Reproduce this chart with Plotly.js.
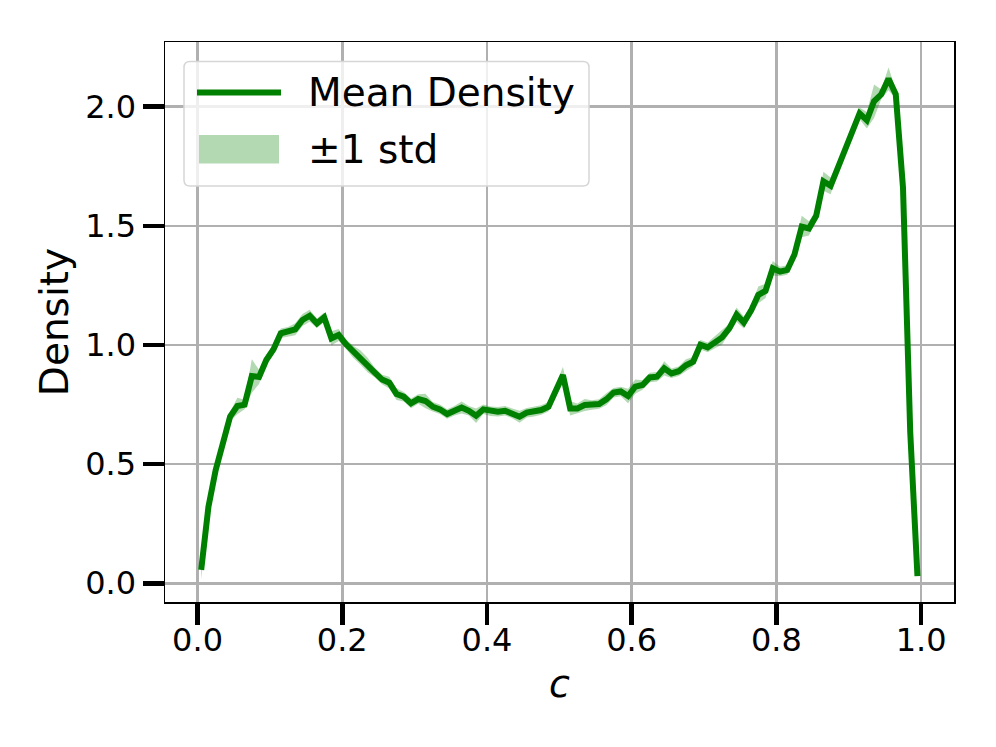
<!DOCTYPE html>
<html>
<head>
<meta charset="utf-8">
<script src="https://cdn.plot.ly/plotly-3.0.1.min.js"></script>
<style>
  html, body { margin: 0; padding: 0; background: #fff; }
  #chart { width: 996px; height: 747px; }
</style>
</head>
<body>
<div id="chart"></div>
<script>
// --- Data (bin centres of c, mean density and its std) ---
const binCentres = Array.from({ length: 100 }, (_, i) => +(0.005 + 0.01 * i).toFixed(3));

const meanDensity = [
  0.056, 0.320, 0.475, 0.587, 0.700, 0.744, 0.750, 0.870, 0.866, 0.937,
  0.982, 1.049, 1.056, 1.066, 1.105, 1.123, 1.091, 1.116, 1.028, 1.042,
  1.004, 0.972, 0.948, 0.916, 0.884, 0.855, 0.842, 0.794, 0.783, 0.755,
  0.773, 0.765, 0.741, 0.730, 0.710, 0.724, 0.738, 0.724, 0.703, 0.730,
  0.722, 0.720, 0.724, 0.713, 0.699, 0.716, 0.720, 0.727, 0.741, 0.804,
  0.874, 0.734, 0.734, 0.748, 0.748, 0.752, 0.772, 0.800, 0.805, 0.786,
  0.825, 0.832, 0.864, 0.867, 0.902, 0.881, 0.890, 0.915, 0.930, 1.001,
  0.990, 1.011, 1.032, 1.070, 1.127, 1.094, 1.144, 1.210, 1.227, 1.322,
  1.308, 1.315, 1.380, 1.497, 1.489, 1.542, 1.687, 1.668, 1.748, 1.823,
  1.895, 1.972, 1.943, 2.023, 2.052, 2.117, 2.052, 1.661, 0.635, 0.030
];

const stdDensity = [
  0.040, 0.025, 0.020, 0.020, 0.020, 0.035, 0.020, 0.070, 0.030, 0.020,
  0.020, 0.020, 0.020, 0.025, 0.025, 0.025, 0.020, 0.020, 0.030, 0.025,
  0.020, 0.025, 0.030, 0.030, 0.020, 0.020, 0.025, 0.025, 0.020, 0.020,
  0.020, 0.030, 0.020, 0.020, 0.020, 0.020, 0.025, 0.020, 0.030, 0.020,
  0.020, 0.020, 0.020, 0.020, 0.025, 0.020, 0.020, 0.020, 0.020, 0.025,
  0.035, 0.030, 0.020, 0.025, 0.020, 0.020, 0.025, 0.020, 0.020, 0.030,
  0.030, 0.020, 0.020, 0.020, 0.030, 0.020, 0.020, 0.025, 0.020, 0.020,
  0.020, 0.025, 0.030, 0.020, 0.030, 0.025, 0.020, 0.035, 0.030, 0.030,
  0.020, 0.020, 0.025, 0.045, 0.030, 0.020, 0.040, 0.035, 0.020, 0.020,
  0.020, 0.025, 0.035, 0.070, 0.020, 0.048, 0.020, 0.010, 0.010, 0.003
];

const xTicks = [0, 0.2, 0.4, 0.6, 0.8, 1.0];
const xTickLabels = ['0.0', '0.2', '0.4', '0.6', '0.8', '1.0'];
const yTicks = [0, 0.5, 1.0, 1.5, 2.0];
const yTickLabels = ['0.0', '0.5', '1.0', '1.5', '2.0'];

const legendLabels = ['Mean Density', '\u00b11 std'];

// --- Style ---
const lineColor = '#008000';
const bandColor = 'rgba(0,128,0,0.3)';
const fontFamily = 'DejaVu Sans, sans-serif';

// plot area in pixels (for the hand-made legend)
const W = 996, H = 747;
const plotL = 165, plotR = 954, plotT = 42, plotB = 602;
const px2x = px => (px - plotL) / (plotR - plotL);
const py2y = py => (plotB - py) / (plotB - plotT);

function roundRectPath(x0, y0, x1, y1, r) {
  const X = px2x, Y = py2y;
  return 'M' + X(x0 + r) + ',' + Y(y0) +
    ' L' + X(x1 - r) + ',' + Y(y0) +
    ' Q' + X(x1) + ',' + Y(y0) + ' ' + X(x1) + ',' + Y(y0 + r) +
    ' L' + X(x1) + ',' + Y(y1 - r) +
    ' Q' + X(x1) + ',' + Y(y1) + ' ' + X(x1 - r) + ',' + Y(y1) +
    ' L' + X(x0 + r) + ',' + Y(y1) +
    ' Q' + X(x0) + ',' + Y(y1) + ' ' + X(x0) + ',' + Y(y1 - r) +
    ' L' + X(x0) + ',' + Y(y0 + r) +
    ' Q' + X(x0) + ',' + Y(y0) + ' ' + X(x0 + r) + ',' + Y(y0) + ' Z';
}

// --- Traces ---
const upper = meanDensity.map((m, i) => m + stdDensity[i]);
const lower = meanDensity.map((m, i) => m - stdDensity[i]);

const traces = [
  {
    x: binCentres, y: upper,
    type: 'scatter', mode: 'lines',
    line: { width: 0, color: bandColor },
    showlegend: false, hoverinfo: 'skip'
  },
  {
    x: binCentres, y: lower,
    type: 'scatter', mode: 'lines',
    fill: 'tonexty', fillcolor: bandColor,
    line: { width: 0, color: bandColor },
    name: legendLabels[1], showlegend: false
  },
  {
    x: binCentres, y: meanDensity,
    type: 'scatter', mode: 'lines',
    line: { color: lineColor, width: 6 },
    name: legendLabels[0], showlegend: false
  }
];

// --- Legend drawn by hand (matplotlib style) ---
const shapes = [
  {
    type: 'path', xref: 'paper', yref: 'paper', layer: 'above',
    path: roundRectPath(184, 61.5, 589, 186, 6),
    fillcolor: 'rgba(255,255,255,0.8)',
    line: { color: '#d6d6d6', width: 1.5 }
  },
  {
    type: 'line', xref: 'paper', yref: 'paper', layer: 'above',
    x0: px2x(197), x1: px2x(281), y0: py2y(92.5), y1: py2y(92.5),
    line: { color: lineColor, width: 6 }
  },
  {
    type: 'rect', xref: 'paper', yref: 'paper', layer: 'above',
    x0: px2x(199), x1: px2x(279), y0: py2y(135), y1: py2y(163.5),
    fillcolor: bandColor, line: { width: 0 }
  }
];

const annotations = [
  {
    xref: 'paper', yref: 'paper', x: px2x(306), y: py2y(92),
    xanchor: 'left', yanchor: 'middle', showarrow: false,
    text: legendLabels[0], font: { family: fontFamily, size: 39, color: '#000' }
  },
  {
    xref: 'paper', yref: 'paper', x: px2x(306), y: py2y(149),
    xanchor: 'left', yanchor: 'middle', showarrow: false,
    text: legendLabels[1], font: { family: fontFamily, size: 39, color: '#000' }
  }
];

const axisCommon = {
  showgrid: true, gridcolor: '#b0b0b0', gridwidth: 2.5,
  zeroline: false,
  showline: true, mirror: true, linecolor: '#000', linewidth: 1.5,
  ticks: 'outside', ticklen: 21, tickwidth: 4.5, tickcolor: '#000',
  tickfont: { family: fontFamily, size: 32, color: '#000' },
  tickmode: 'array'
};

const layout = {
  width: W, height: H,
  margin: { l: plotL, r: W - plotR, t: plotT, b: H - plotB, pad: 0 },
  paper_bgcolor: '#fff', plot_bgcolor: '#fff',
  font: { family: fontFamily, color: '#000' },
  showlegend: false,
  xaxis: Object.assign({}, axisCommon, {
    range: [-0.045, 1.0455],
    tickvals: xTicks, ticktext: xTickLabels,
    ticklabelstandoff: -12,
    title: { text: '<i>c</i>', font: { family: fontFamily, size: 38, color: '#000' }, standoff: 12 }
  }),
  yaxis: Object.assign({}, axisCommon, {
    range: [-0.0785, 2.2715],
    tickvals: yTicks, ticktext: yTickLabels,
    title: { text: 'Density', font: { family: fontFamily, size: 39, color: '#000' }, standoff: 4 }
  }),
  shapes: shapes,
  annotations: annotations
};

Plotly.newPlot('chart', traces, layout, { displayModeBar: false, staticPlot: true });
</script>
</body>
</html>
